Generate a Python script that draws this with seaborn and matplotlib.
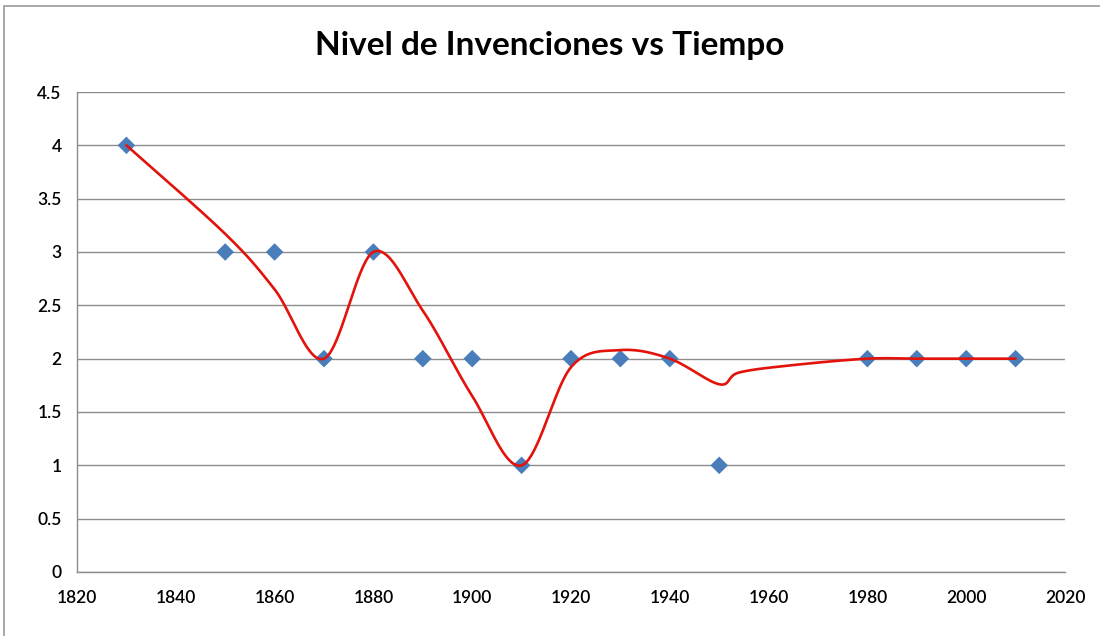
import numpy as np
import pandas as pd
import matplotlib
matplotlib.use("Agg")
import matplotlib.pyplot as plt
import seaborn as sns
from matplotlib.patches import Rectangle

# Observed inventions level per year
years = [1830, 1850, 1860, 1870, 1880, 1890, 1900, 1910, 1920, 1930, 1940, 1950,
         1980, 1990, 2000, 2010]
levels = [4, 3, 3, 2, 3, 2, 2, 1, 2, 2, 2, 1, 2, 2, 2, 2]

# Trend series (smoothed red line)
trend_years = [1830, 1850, 1860, 1870, 1880, 1890, 1900, 1910, 1920, 1930, 1940,
               1950, 1954, 1965, 1980, 1990, 2000, 2010]
trend_levels = [4, 3.17, 2.65, 2, 3, 2.45, 1.65, 1, 1.92, 2.08, 2, 1.76, 1.87,
                1.94, 2, 2, 2, 2]

x_ticks = [1820, 1840, 1860, 1880, 1900, 1920, 1940, 1960, 1980, 2000, 2020]
y_ticks = [0, 0.5, 1, 1.5, 2, 2.5, 3, 3.5, 4, 4.5]


def smooth_bezier(xs, ys, n=40):
    """Cubic Bezier smoothing through every point (spreadsheet-style)."""
    pts = np.column_stack([xs, ys]).astype(float)
    out = []
    m = len(pts)
    for i in range(m - 1):
        p0 = pts[i - 1] if i > 0 else pts[i]
        p1 = pts[i]
        p2 = pts[i + 1]
        p3 = pts[i + 2] if i + 2 < m else pts[i + 1]
        c1 = p1 + (p2 - p0) / 6.0
        c2 = p2 - (p3 - p1) / 6.0
        t = np.linspace(0, 1, n)[:, None]
        seg = ((1 - t) ** 3) * p1 + 3 * ((1 - t) ** 2) * t * c1 \
            + 3 * (1 - t) * t ** 2 * c2 + t ** 3 * p2
        out.append(seg if i == 0 else seg[1:])
    return np.vstack(out)


sns.set_theme(style="white")
plt.rcParams["font.family"] = ["Lato", "DejaVu Sans"]

fig = plt.figure(figsize=(11, 6.36), dpi=100)
ax = fig.add_axes([77 / 1100, 1 - 572 / 636, (1065 - 77) / 1100, (572 - 92) / 636])

# Chart-area frame
fig.patches.append(Rectangle((4 / 1100, -0.01), 1.0, 1 - 6 / 636 + 0.01,
                             transform=fig.transFigure, fill=False,
                             edgecolor="#9a9a9a", linewidth=1.2))

curve = smooth_bezier(trend_years, trend_levels)
curve_df = pd.DataFrame({"year": curve[:, 0], "level": curve[:, 1]})
pts_df = pd.DataFrame({"year": years, "level": levels})

sns.scatterplot(data=pts_df, x="year", y="level", marker="D", s=80,
                color="#4a7ebb", edgecolor="none", ax=ax, zorder=3)
sns.lineplot(data=curve_df, x="year", y="level", sort=False, estimator=None,
             color="#e3120b", linewidth=1.9, ax=ax, zorder=4)

ax.set_xlim(1820, 2020)
ax.set_ylim(0, 4.5)
ax.set_xticks(x_ticks)
ax.set_yticks(y_ticks)
ax.set_yticklabels([f"{v:g}" for v in y_ticks])
ax.set_xlabel("")
ax.set_ylabel("")

ax.yaxis.grid(True, color="#8c8c8c", linewidth=1.0)
ax.xaxis.grid(False)
ax.set_axisbelow(True)
for side in ["top", "right"]:
    ax.spines[side].set_visible(False)
for side in ["left", "bottom"]:
    ax.spines[side].set_visible(True)
    ax.spines[side].set_color("#8c8c8c")
    ax.spines[side].set_linewidth(1.0)

ax.tick_params(axis="both", which="major", direction="out", length=5,
               width=1.0, color="#8c8c8c", labelsize=12.5, labelcolor="#000000")
for lbl in ax.get_xticklabels() + ax.get_yticklabels():
    lbl.set_fontweight("semibold")
ax.tick_params(axis="x", pad=8)
ax.tick_params(axis="y", pad=6)

fig.text(0.5, 1 - 46 / 636, "Nivel de Invenciones vs Tiempo", ha="center",
         va="center", fontsize=24, fontweight="bold", color="#000000")

fig.savefig("out.png", dpi=100, facecolor="white")
